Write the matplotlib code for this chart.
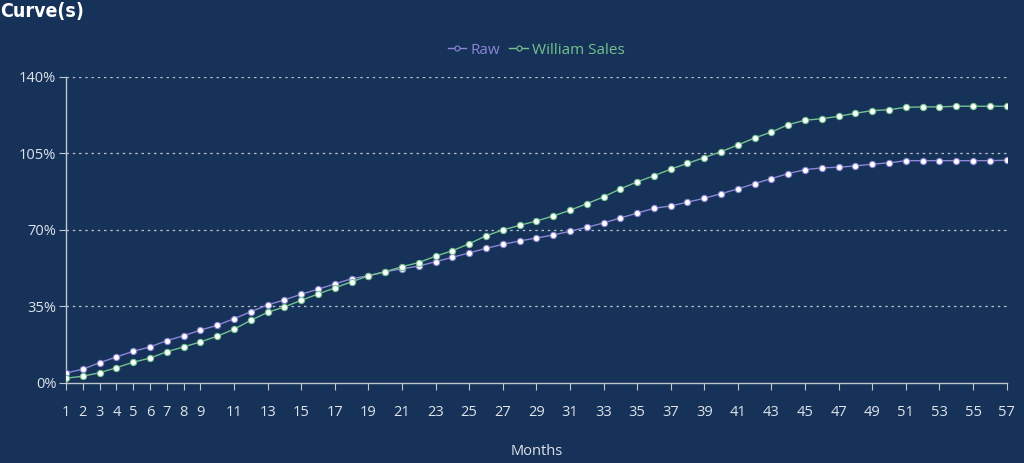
import numpy as np
import matplotlib.pyplot as plt
from matplotlib.ticker import FuncFormatter


months = np.arange(1, 58)

raw = [4.6, 6.3, 9.3, 11.9, 14.5, 16.5, 19.4, 21.6, 24.2, 26.4,
       29.4, 32.6, 35.7, 38.0, 40.6, 42.9, 45.3, 47.7, 49.1, 50.9,
       52.2, 53.5, 55.5, 57.5, 59.5, 61.6, 63.4, 65.0, 66.3, 67.7,
       69.4, 71.2, 73.2, 75.5, 77.7, 79.9, 81.0, 82.7, 84.5, 86.6,
       88.8, 91.2, 93.5, 95.8, 97.6, 98.4, 98.7, 99.3, 100.1, 100.7,
       101.7, 101.7, 101.7, 101.7, 101.7, 101.7, 101.9]

william_sales = [2.2, 3.1, 4.7, 7.0, 9.5, 11.4, 14.3, 16.5, 18.8, 21.4,
                 24.6, 28.7, 32.3, 34.8, 37.8, 40.7, 43.5, 46.3, 49.0, 50.9,
                 53.2, 55.1, 58.0, 60.5, 63.7, 67.3, 70.0, 72.1, 74.1, 76.4,
                 79.0, 82.0, 85.1, 88.8, 92.0, 94.8, 97.8, 100.5, 103.1, 105.8,
                 108.9, 112.1, 114.8, 118.2, 120.2, 120.9, 122.0, 123.4, 124.6, 125.0,
                 126.1, 126.3, 126.3, 126.6, 126.6, 126.6, 126.6]

x_ticks = list(range(1, 10)) + list(range(11, 58, 2))
y_ticks = [0, 35, 70, 105, 140]

bg = "#163258"
purple = "#8c86d6"
green = "#74c28f"
light = "#dfe3ea"

plt.rcParams["font.family"] = ["Open Sans", "DejaVu Sans"]

fig = plt.figure(figsize=(10.24, 4.63), dpi=100, facecolor=bg)
ax = fig.add_axes([0.0645, 0.1728, 0.9185, 0.661])
ax.set_facecolor(bg)

ax.plot(months, raw, color=purple, lw=1.0, marker="o", ms=4.5,
        mfc="white", mec=purple, mew=0.8, label="Raw", zorder=3)
ax.plot(months, william_sales, color=green, lw=1.0, marker="o", ms=4.5,
        mfc="white", mec=green, mew=0.8, label="William Sales", zorder=3)

ax.set_xlim(1, 57)
ax.set_ylim(0, 140)
ax.set_xticks(x_ticks)
ax.set_yticks(y_ticks)
ax.yaxis.set_major_formatter(FuncFormatter(lambda v, p: f"{v:.0f}%"))

for v in y_ticks[1:]:
    ax.axhline(v, color="#b8c0cc", lw=0.9, ls=(0, (2, 3)), zorder=1)

for side in ["top", "right"]:
    ax.spines[side].set_visible(False)
for side in ["left", "bottom"]:
    ax.spines[side].set_color("#c0c6d0")
    ax.spines[side].set_linewidth(1.0)

ax.tick_params(axis="both", colors="#c0c6d0", labelcolor=light, labelsize=10.5, length=5)
ax.tick_params(axis="x", pad=11)
ax.tick_params(axis="y", pad=2)

ax.set_xlabel("Months", color=light, fontsize=10.5, labelpad=17)

leg = ax.legend(loc="center", bbox_to_anchor=(0.5, 1.088), ncol=2, frameon=False,
                fontsize=11, handlelength=1.2, handletextpad=0.3, columnspacing=0.6,
                markerscale=0.8)
for text, c in zip(leg.get_texts(), [purple, green]):
    text.set_color(c)
for h, c in zip(leg.legend_handles, [purple, green]):
    h.set_markerfacecolor(bg)

fig.text(0.0, 0.995, "Curve(s)", color="white", fontsize=14, fontweight="heavy",
         family=["DejaVu Sans Condensed", "DejaVu Sans"], stretch="condensed",
         ha="left", va="top")

fig.savefig("out.png", dpi=100, facecolor=bg)
